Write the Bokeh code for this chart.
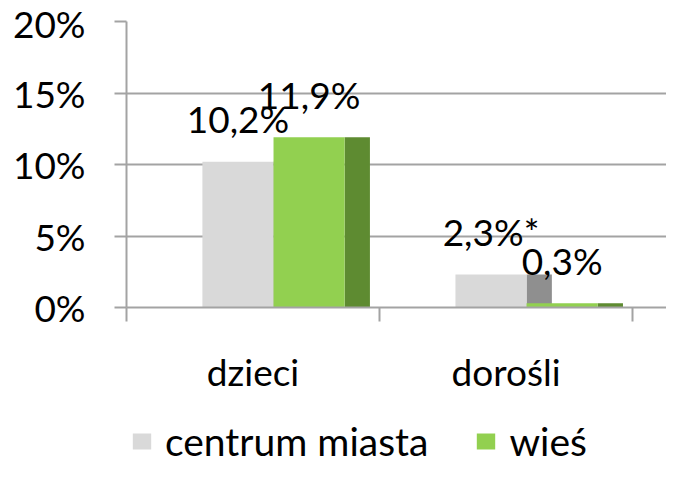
from bokeh.plotting import figure
from bokeh.layouts import column
from bokeh.models import (Range1d, FixedTicker, NumeralTickFormatter, LinearAxis,
                          Legend, LegendItem, ColumnDataSource)
from bokeh.core.properties import value
from bokeh.embed import file_html
from bokeh.resources import INLINE

# ---- data ----
categories = ["dzieci", "dorośli"]
series_names = ["centrum miasta", "wieś"]
centrum = [10.2, 2.3]
wies = [11.9, 0.3]
labels_centrum = ["10,2%", "2,3%*"]
labels_wies = ["11,9%", "0,3%"]
y_ticks = [0, 0.05, 0.10, 0.15, 0.20]

# ---- style ----
FONT = "Lato"
GRAY_FRONT = "#d9d9d9"
GRAY_SIDE = "#8f8f8f"
GREEN_FRONT = "#92d050"
GREEN_SIDE = "#5e8b31"
GRID = "#a3a3a3"

bar_w = 0.281
side_w = 0.1
group_shift = 0.581  # 3D perspective shift of the bar group inside each band

n = len(categories)
x_c = [i + group_shift - bar_w / 2 for i in range(n)]
x_w = [i + group_shift + bar_w / 2 for i in range(n)]
yc = [v / 100 for v in centrum]
yw = [v / 100 for v in wies]

p = figure(width=666, height=410, output_backend="svg", toolbar_location=None,
           x_range=Range1d(0, 2.134), y_range=Range1d(0, 0.2),
           min_border_left=126, min_border_right=0, min_border_top=21,
           min_border_bottom=103)
p.outline_line_color = None
p.background_fill_color = "white"
p.border_fill_color = "white"

# y axis
p.yaxis.ticker = FixedTicker(ticks=y_ticks)
p.yaxis.formatter = NumeralTickFormatter(format="0%")
p.yaxis.axis_line_color = GRID
p.yaxis.axis_line_width = 2
p.yaxis.major_tick_line_color = GRID
p.yaxis.major_tick_line_width = 2
p.yaxis.major_tick_out = 12
p.yaxis.major_tick_in = 0
p.yaxis.minor_tick_line_color = None
p.yaxis.major_label_standoff = 29
p.yaxis.major_label_text_font = FONT
p.yaxis.major_label_text_font_size = "37px"
p.yaxis.major_label_text_color = "black"

p.ygrid.ticker = FixedTicker(ticks=y_ticks)
p.ygrid.grid_line_color = GRID
p.ygrid.grid_line_width = 2
p.xgrid.grid_line_color = None

# x axis 1: floor tick marks at band edges
xa = p.xaxis[0]
xa.ticker = FixedTicker(ticks=list(range(n + 1)))
xa.major_label_overrides = {i: "" for i in range(n + 1)}
xa.major_label_text_font_size = "1px"
xa.major_label_standoff = 0
xa.axis_line_color = GRID
xa.axis_line_width = 2
xa.major_tick_line_color = GRID
xa.major_tick_line_width = 2
xa.major_tick_out = 14
xa.major_tick_in = 0
xa.minor_tick_line_color = None

# x axis 2: category labels at band centres
xa2 = LinearAxis(ticker=FixedTicker(ticks=[i + 0.5 for i in range(n)]),
                 major_label_overrides={i + 0.5: c for i, c in enumerate(categories)})
xa2.axis_line_color = None
xa2.major_tick_line_color = None
xa2.minor_tick_line_color = None
xa2.major_label_standoff = 21
xa2.major_label_text_font = FONT
xa2.major_label_text_font_size = "37px"
xa2.major_label_text_color = "black"
p.add_layout(xa2, "below")

# side faces (3D look)
p.vbar(x=[x + bar_w / 2 + side_w / 2 for x in x_c], width=side_w, top=yc, bottom=0,
       fill_color=GRAY_SIDE, line_color=None)
p.vbar(x=[x + bar_w / 2 + side_w / 2 for x in x_w], width=side_w, top=yw, bottom=0,
       fill_color=GREEN_SIDE, line_color=None)

# front faces
r_c = p.vbar(x=x_c, width=bar_w, top=yc, bottom=0, fill_color=GRAY_FRONT, line_color=None)
r_w = p.vbar(x=x_w, width=bar_w, top=yw, bottom=0, fill_color=GREEN_FRONT, line_color=None)

# data labels
src_lab = ColumnDataSource(dict(x=x_c + x_w, y=yc + yw, t=labels_centrum + labels_wies))
p.text(x="x", y="y", text="t", source=src_lab, text_align="center",
       text_baseline="alphabetic", y_offset=-43, text_font=value(FONT),
       text_font_size="37px", text_color="black")

# ---- legend strip (own small figure, its swatch renderers lie outside its view) ----
pl = figure(width=666, height=54, output_backend="svg", toolbar_location=None,
            x_range=Range1d(10, 11), y_range=Range1d(10, 11),
            x_axis_type=None, y_axis_type=None,
            min_border_left=0, min_border_right=0, min_border_top=0, min_border_bottom=0)
pl.outline_line_color = None
pl.xgrid.grid_line_color = None
pl.ygrid.grid_line_color = None
lr_c = pl.vbar(x=x_c, width=bar_w, top=yc, bottom=0, fill_color=GRAY_FRONT, line_color=None)
lr_w = pl.vbar(x=x_w, width=bar_w, top=yw, bottom=0, fill_color=GREEN_FRONT, line_color=None)

legend = Legend(items=[LegendItem(label=series_names[0], renderers=[lr_c]),
                       LegendItem(label=series_names[1], renderers=[lr_w])],
                orientation="horizontal", location=(4, 0))
legend.label_text_font = FONT
legend.label_text_font_size = "39px"
legend.label_text_color = "black"
legend.glyph_width = 23
legend.glyph_height = 20
legend.label_standoff = 12
legend.spacing = 46
legend.padding = 0
legend.margin = 0
legend.border_line_color = None
legend.background_fill_alpha = 0
pl.add_layout(legend, "center")

layout = column(p, pl, spacing=0)
open("out.html", "w").write(file_html(layout, INLINE))
